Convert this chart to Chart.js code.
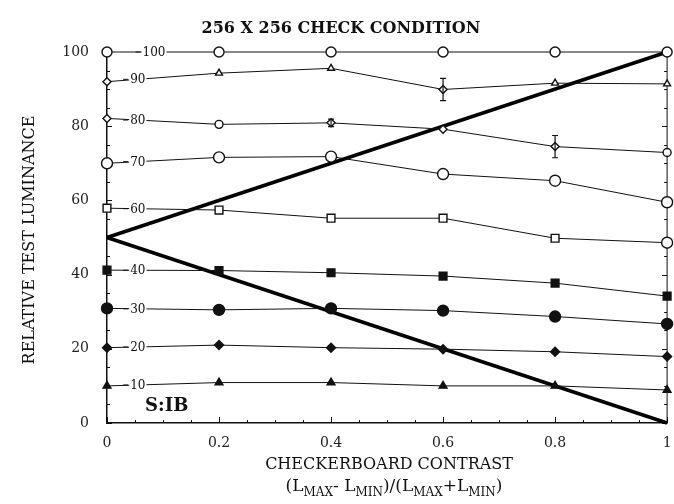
<!DOCTYPE html>
<html>
<head>
<meta charset="utf-8">
<script src="https://cdn.jsdelivr.net/npm/chart.js@4/dist/chart.umd.min.js"></script>
<style>
  html, body { margin: 0; padding: 0; background: #fff; }
  #wrap { width: 674px; height: 504px; position: relative; }
</style>
</head>
<body>
<div id="wrap"><canvas id="c" width="674" height="504"></canvas></div>
<script>
// Checkerboard contrast (x) and relative test luminance of each matching series
const contrast = [0, 0.2, 0.4, 0.6, 0.8, 1];
const lum100 = [100, 100, 100, 100, 100, 100];
const lum90  = [92.0, 94.3, 95.6, 89.9, 91.6, 91.4];
const lum80  = [82.1, 80.5, 80.9, 79.2, 74.5, 72.9];
const lum70  = [70.0, 71.6, 71.8, 67.1, 65.3, 59.5];
const lum60  = [57.9, 57.4, 55.2, 55.2, 49.8, 48.6];
const lum40  = [41.2, 41.1, 40.5, 39.6, 37.7, 34.2];
const lum30  = [30.9, 30.5, 30.9, 30.3, 28.7, 26.7];
const lum20  = [20.3, 21.0, 20.3, 19.9, 19.2, 17.9];
const lum10  = [10.0, 10.9, 10.9, 10.0, 10.0, 8.9];
// standard-error half widths
const err90 = [0, 0, 0, 3, 0, 0];
const err80 = [0, 0, 1, 0, 3, 0];
// luminance envelope lines: Lmax and Lmin of the checkerboard (mean 50)
const envContrast = [0, 1];
const envMax = [50, 100];
const envMin = [50, 0];
const seriesNames = ['100', '90', '80', '70', '60', '40', '30', '20', '10'];
const xTicks = [0, 0.2, 0.4, 0.6, 0.8, 1];
const yTicks = [0, 20, 40, 60, 80, 100];

const SERIF = '"DejaVu Serif", "Liberation Serif", serif';
const pts = (xs, ys) => xs.map((x, i) => ({ x: x, y: ys[i] }));

function series(name, ys, style, radius, filled, errs) {
  return {
    label: name,
    data: pts(contrast, ys),
    borderColor: '#111',
    borderWidth: 1,
    pointStyle: style,
    pointRadius: radius,
    pointBorderWidth: 1.4,
    pointBorderColor: '#111',
    pointBackgroundColor: filled ? '#111' : '#fff',
    clip: false,
    errs: errs || null,
    tension: 0
  };
}

const datasets = [
  series('100', lum100, 'circle', 5, false),
  series('90', lum90, ['rectRot', 'triangle', 'triangle', 'rectRot', 'triangle', 'triangle'], 4, false, err90),
  series('80', lum80, ['rectRot', 'circle', 'rectRot', 'rectRot', 'rectRot', 'circle'], 4, false, err80),
  series('70', lum70, 'circle', 5.5, false),
  series('60', lum60, ['rect', 'rect', 'rect', 'rect', 'rect', 'circle'], 5.5, false),
  series('40', lum40, 'rect', 5.5, true),
  series('30', lum30, 'circle', 5.5, true),
  series('20', lum20, 'rectRot', 4.5, true),
  series('10', lum10, 'triangle', 4.5, true),
  {
    label: 'Lmax', data: pts(envContrast, envMax), borderColor: '#000', borderWidth: 3.6,
    pointRadius: 0, clip: false, tension: 0
  },
  {
    label: 'Lmin', data: pts(envContrast, envMin), borderColor: '#000', borderWidth: 3.6,
    pointRadius: 0, clip: false, tension: 0
  }
];

// text segments with subscripts
function drawRich(ctx, parts, cx, baseY, size, subSize) {
  const main = size + 'px ' + SERIF;
  const sub = subSize + 'px ' + SERIF;
  let total = 0;
  parts.forEach(p => { ctx.font = p[1] ? sub : main; total += ctx.measureText(p[0]).width; });
  let x = cx - total / 2;
  ctx.textAlign = 'left';
  ctx.textBaseline = 'alphabetic';
  parts.forEach(p => {
    ctx.font = p[1] ? sub : main;
    ctx.fillText(p[0], x, baseY + (p[1] ? 5 : 0));
    x += ctx.measureText(p[0]).width;
  });
}

const decor = {
  id: 'decor',
  beforeDatasetsDraw(chart) {
    const { ctx, scales: { x, y } } = chart;
    ctx.save();
    ctx.strokeStyle = '#111';
    ctx.lineWidth = 1;
    // right frame line
    ctx.beginPath();
    ctx.moveTo(x.getPixelForValue(1), y.getPixelForValue(0));
    ctx.lineTo(x.getPixelForValue(1), y.getPixelForValue(100));
    ctx.stroke();
    // inward tick marks
    ctx.beginPath();
    for (let v = 0; v <= 100.001; v += 5) {
      const py = Math.round(y.getPixelForValue(v)) + 0.5;
      const len = v % 20 === 0 ? 5 : 3;
      ctx.moveTo(x.left, py); ctx.lineTo(x.left + len, py);
      ctx.moveTo(x.right, py); ctx.lineTo(x.right - len, py);
    }
    for (let i = 0; i <= 20; i++) {
      const px = Math.round(x.getPixelForValue(i * 0.05)) + 0.5;
      const len = i % 4 === 0 ? 6 : 3;
      ctx.moveTo(px, y.bottom); ctx.lineTo(px, y.bottom - len);
    }
    ctx.stroke();
    ctx.restore();
  },
  afterDatasetsDraw(chart) {
    const { ctx, scales: { x, y } } = chart;
    ctx.save();
    ctx.fillStyle = '#111';
    ctx.strokeStyle = '#111';
    // error bars
    chart.data.datasets.forEach(ds => {
      if (!ds.errs) return;
      ds.data.forEach((p, i) => {
        const e = ds.errs[i];
        if (!e) return;
        const px = x.getPixelForValue(p.x);
        const y1 = y.getPixelForValue(p.y + e), y2 = y.getPixelForValue(p.y - e);
        ctx.lineWidth = 1.2;
        ctx.beginPath();
        ctx.moveTo(px, y1); ctx.lineTo(px, y2);
        ctx.moveTo(px - 3, y1); ctx.lineTo(px + 3, y1);
        ctx.moveTo(px - 3, y2); ctx.lineTo(px + 3, y2);
        ctx.stroke();
      });
    });
    // series name written on each line near the left axis
    ctx.font = '12px ' + SERIF;
    ctx.textBaseline = 'middle';
    ctx.textAlign = 'center';
    seriesNames.forEach((name, k) => {
      const ds = chart.data.datasets[k];
      const fx = name.length === 3 ? 0.084 : 0.055;
      const d0 = ds.data[0], d1 = ds.data[1];
      const yv = d0.y + (d1.y - d0.y) * (fx - d0.x) / (d1.x - d0.x);
      const px = x.getPixelForValue(fx), py = y.getPixelForValue(yv);
      const w = ctx.measureText(name).width;
      ctx.fillStyle = '#fff';
      ctx.fillRect(px - w / 2 - 1, py - 4, w + 2, 8);
      ctx.fillStyle = '#111';
      ctx.fillText(name, px, py + 1);
      ctx.beginPath();
      ctx.lineWidth = 1;
      ctx.moveTo(px - w / 2 - 7, py); ctx.lineTo(px - w / 2 - 2, py);
      ctx.stroke();
    });
    // subject code
    ctx.font = 'bold 18px ' + SERIF;
    ctx.textAlign = 'left';
    ctx.fillText('S:IB', x.getPixelForValue(0.068), y.getPixelForValue(4.4));
    ctx.restore();
  },
  afterDraw(chart) {
    const { ctx } = chart;
    ctx.save();
    ctx.fillStyle = '#111';
    // main title
    ctx.font = 'bold 16px ' + SERIF;
    ctx.textAlign = 'center';
    ctx.textBaseline = 'middle';
    ctx.fillText('256 X 256 CHECK CONDITION', 341, 29);
    // x-axis title
    ctx.font = '16px ' + SERIF;
    ctx.fillText('CHECKERBOARD CONTRAST', 389, 465);
    drawRich(ctx, [['(L', 0], ['MAX', 1], ['- L', 0], ['MIN', 1], [')/(L', 0], ['MAX', 1], ['+L', 0], ['MIN', 1], [')', 0]], 394, 491, 17, 12);
    // y-axis title
    ctx.translate(30, 240);
    ctx.rotate(-Math.PI / 2);
    ctx.font = '16px ' + SERIF;
    ctx.textAlign = 'center';
    ctx.textBaseline = 'middle';
    ctx.fillText('RELATIVE TEST LUMINANCE', 0, 0);
    ctx.restore();
  }
};

new Chart(document.getElementById('c'), {
  type: 'line',
  data: { datasets: datasets },
  options: {
    responsive: false,
    animation: false,
    events: [],
    layout: { padding: { top: 52, right: 5, left: 0, bottom: 0 } },
    plugins: { legend: { display: false }, tooltip: { enabled: false }, title: { display: false } },
    scales: {
      x: {
        type: 'linear', min: 0, max: 1,
        afterBuildTicks: s => { s.ticks = xTicks.map(v => ({ value: v })); },
        afterFit: s => { s.height = 81; s.paddingLeft = 0; s.paddingRight = 0; },
        grid: { display: false, drawTicks: false },
        border: { display: true, color: '#111', width: 1.5 },
        ticks: { color: '#222', padding: 12, font: { family: SERIF, size: 14 }, maxRotation: 0, callback: v => String(v) }
      },
      y: {
        type: 'linear', min: 0, max: 100,
        afterBuildTicks: s => { s.ticks = yTicks.map(v => ({ value: v })); },
        afterFit: s => { s.width = 107; s.paddingTop = 0; s.paddingBottom = 0; },
        grid: { display: false, drawTicks: false },
        border: { display: true, color: '#111', width: 1.5 },
        ticks: { color: '#222', padding: 18, font: { family: SERIF, size: 14 }, callback: v => String(v) }
      }
    }
  },
  plugins: [decor]
});
</script>
</body>
</html>
